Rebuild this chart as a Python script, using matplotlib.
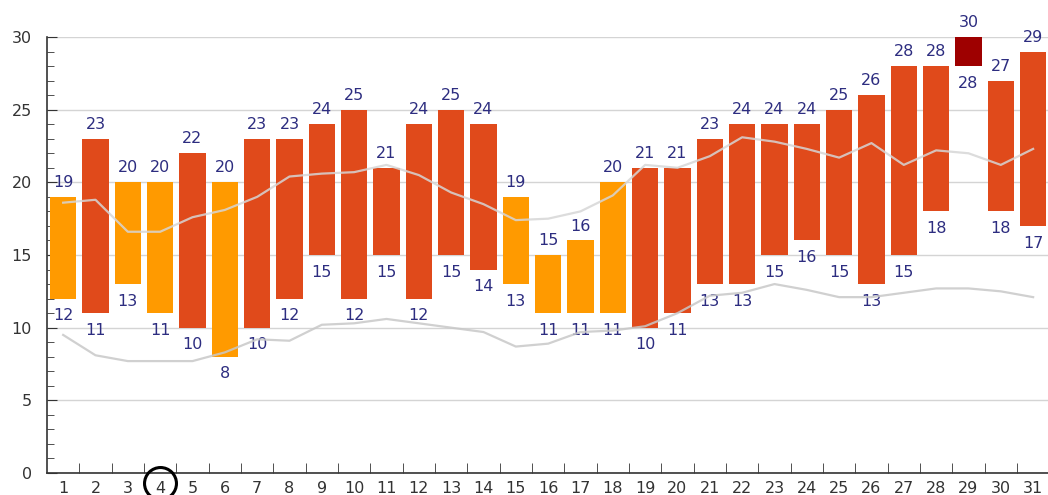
import matplotlib
matplotlib.use("Agg")
import matplotlib.pyplot as plt
from matplotlib.ticker import MultipleLocator, FixedLocator

# daily data
days = list(range(1, 32))
t_max = [19, 23, 20, 20, 22, 20, 23, 23, 24, 25, 21, 24, 25, 24, 19, 15,
         16, 20, 21, 21, 23, 24, 24, 24, 25, 26, 28, 28, 30, 27, 29]
t_min = [12, 11, 13, 11, 10, 8, 10, 12, 15, 12, 15, 12, 15, 14, 13, 11,
         11, 11, 10, 11, 13, 13, 15, 16, 15, 13, 15, 18, 28, 18, 17]
avg_max = [18.6, 18.8, 16.6, 16.6, 17.6, 18.1, 19.0, 20.4, 20.6, 20.7, 21.2,
           20.5, 19.3, 18.5, 17.4, 17.5, 18.0, 19.1, 21.2, 21.0, 21.8, 23.1,
           22.8, 22.3, 21.7, 22.7, 21.2, 22.2, 22.0, 21.2, 22.3]
avg_min = [9.5, 8.1, 7.7, 7.7, 7.7, 8.3, 9.2, 9.1, 10.2, 10.3, 10.6, 10.3,
           10.0, 9.7, 8.7, 8.9, 9.7, 9.8, 10.1, 11.0, 12.2, 12.4, 13.0, 12.6,
           12.1, 12.1, 12.4, 12.7, 12.7, 12.5, 12.1]
highlight_day = 4


def bar_color(v):
    if v >= 30:
        return "#9e0000"
    if v > 20:
        return "#e04a1b"
    return "#ff9a00"


fig = plt.figure(figsize=(10.48, 4.95), dpi=100)
ax = fig.add_axes([47 / 1048, 22 / 495, 1 - 47 / 1048, 436 / 495])

heights = [hi - lo for hi, lo in zip(t_max, t_min)]
colors = [bar_color(v) for v in t_max]
ax.bar(days, heights, bottom=t_min, width=0.82, color=colors, zorder=2,
       clip_on=False)

ax.plot(days, avg_max, color="#d6d6d6", lw=1.6, alpha=0.85, zorder=4)
ax.plot(days, avg_min, color="#c8c8c8", lw=1.6, alpha=0.85, zorder=4)

lab_col = "#2d2d80"
for d, hi, lo in zip(days, t_max, t_min):
    ax.annotate(str(hi), (d, hi), xytext=(0, 5), textcoords="offset points",
                ha="center", va="bottom", fontsize=11.5, color=lab_col,
                zorder=3, annotation_clip=False)
    ax.annotate(str(lo), (d, lo), xytext=(0, -7), textcoords="offset points",
                ha="center", va="top", fontsize=11.5, color=lab_col,
                zorder=3, annotation_clip=False)

ax.set_xlim(0.5, 31.46)
ax.set_ylim(0, 30)

# grid + axes styling
ax.yaxis.set_major_locator(MultipleLocator(5))
ax.yaxis.set_minor_locator(MultipleLocator(1))
ax.grid(axis="y", which="major", color="#d4d4d4", lw=1, zorder=0)
for s in ["top", "right"]:
    ax.spines[s].set_visible(False)
for s in ["left", "bottom"]:
    ax.spines[s].set_color("#333333")
    ax.spines[s].set_linewidth(1.2)

ax.tick_params(axis="y", which="major", direction="in", length=7,
               labelsize=11.5, labelcolor="#333333", pad=11, color="#333333")
ax.tick_params(axis="y", which="minor", direction="in", length=5,
               color="#333333")

# x: tick marks between bars, labels at bar centres
ax.xaxis.set_major_locator(FixedLocator(days))
ax.xaxis.set_minor_locator(FixedLocator([d + 0.5 for d in days[:-1]]))
ax.set_xticklabels([str(d) for d in days])
ax.tick_params(axis="x", which="major", length=0, labelsize=11.5,
               labelcolor="#333333", pad=6)
ax.tick_params(axis="x", which="minor", direction="in", length=7,
               color="#333333")

# circle around the current day
ax.plot([highlight_day], [-0.7], "o", ms=23, mfc="none", mec="black",
        mew=2.2, clip_on=False, zorder=5)

fig.savefig("out.png", dpi=100)
